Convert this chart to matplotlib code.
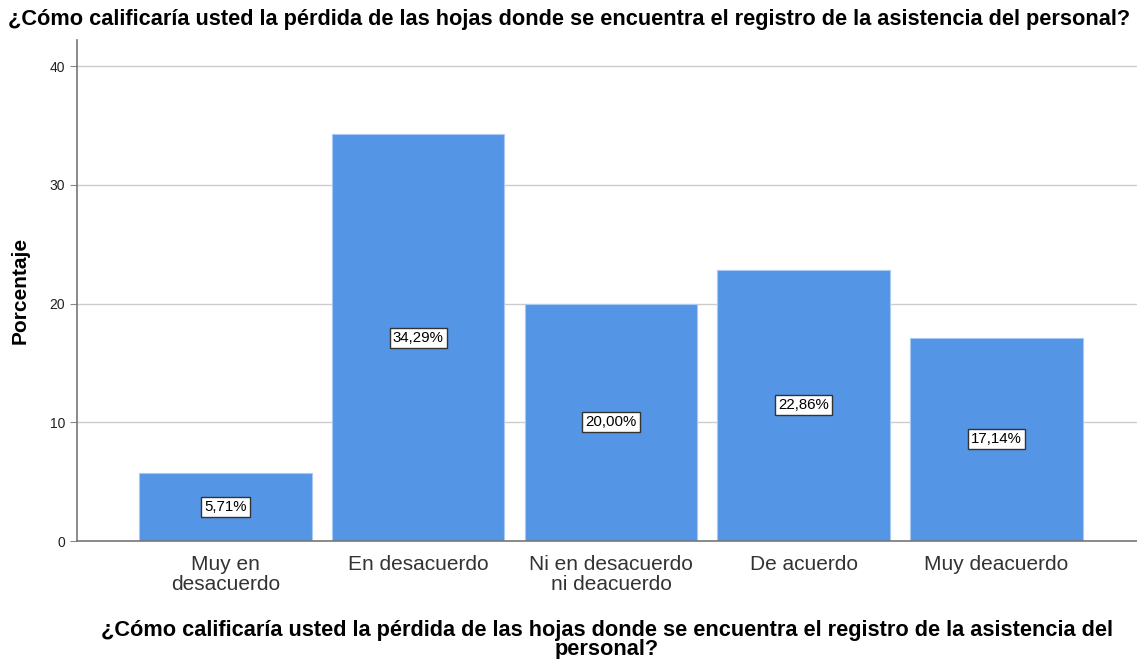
import matplotlib.pyplot as plt

plt.rcParams['font.family'] = ['Liberation Sans', 'DejaVu Sans']

categorias = ['Muy en\ndesacuerdo', 'En desacuerdo', 'Ni en desacuerdo\nni deacuerdo',
              'De acuerdo', 'Muy deacuerdo']
porcentajes = [5.71, 34.29, 20.00, 22.86, 17.14]
etiquetas = ['5,71%', '34,29%', '20,00%', '22,86%', '17,14%']

pregunta = '¿Cómo calificaría usted la pérdida de las hojas donde se encuentra el registro de la asistencia del personal?'

fig = plt.figure(figsize=(11.37, 6.59), dpi=100)
ax = fig.add_axes([0.0677, 0.179, 0.9323, 0.76])

x = list(range(len(categorias)))
ax.bar(x, porcentajes, width=0.896, color='#5595e5', edgecolor='#a9c8f2', linewidth=0.8, zorder=2)

for xi, v, t in zip(x, porcentajes, etiquetas):
    ax.text(xi, v / 2, t, ha='center', va='center', fontsize=10.8, zorder=3,
            bbox=dict(boxstyle='square,pad=0.2', fc='white', ec='#333333', lw=1))

ax.set_xlim(-0.769, 4.728)
ax.set_ylim(0, 42.2)
ax.set_yticks([0, 10, 20, 30, 40])
ax.set_xticks(x)
ax.set_xticklabels(categorias, fontsize=15, color='#333333', linespacing=1.05)
ax.tick_params(axis='x', length=0, pad=10)
ax.tick_params(axis='y', length=5, color='#888888', labelsize=10, labelcolor='#222222')
ax.grid(axis='y', color='#cccccc', linewidth=1, zorder=0)
ax.set_axisbelow(True)
for s in ['top', 'right']:
    ax.spines[s].set_visible(False)
for s in ['left', 'bottom']:
    ax.spines[s].set_color('#777777')
    ax.spines[s].set_linewidth(1.2)

ax.set_ylabel('Porcentaje', fontsize=15, fontweight='bold', labelpad=14)
ax.set_xlabel('¿Cómo calificaría usted la pérdida de las hojas donde se encuentra el registro de la asistencia del\npersonal?',
              fontsize=15.7, fontweight='bold', linespacing=0.9, labelpad=19)
fig.text(0.007, 0.971, pregunta, fontsize=15.7, fontweight='bold', ha='left', va='center')

fig.savefig('out.png', dpi=100)
